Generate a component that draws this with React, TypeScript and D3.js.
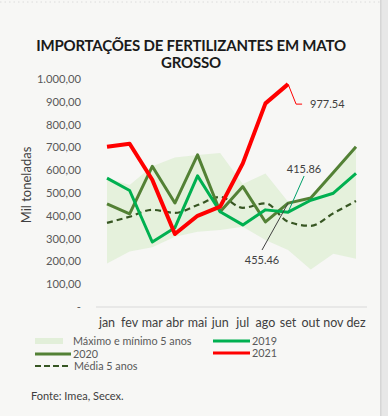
import * as d3 from 'd3';
import React from 'react';

const months = ['jan', 'fev', 'mar', 'abr', 'mai', 'jun', 'jul', 'ago', 'set', 'out', 'nov', 'dez'];

const y2019 = [565, 511, 285, 348, 575, 418, 360, 426, 415.86, 468, 499, 586];
const y2020 = [452, 408, 617, 456, 667, 418, 528, 373, 455.46, 478, 590, 703];
const y2021 = [703, 716, 558, 320, 400, 440, 630, 893, 977.54];
const media5 = [369, 396, 426, 413, 447, 483, 435, 455, 374, 356, 411, 465];
const max5 = [565, 535, 617, 656, 667, 675, 540, 586, 462, 478, 588, 703];
const min5 = [191, 243, 262, 308, 330, 338, 352, 294, 250, 164, 234, 212];

const yTicks = [0, 100, 200, 300, 400, 500, 600, 700, 800, 900, 1000];
const yTickLabels = ['-', '100,00', '200,00', '300,00', '400,00', '500,00', '600,00', '700,00', '800,00', '900,00', '1.000,00'];

const W = 388;
const H = 416;
const font = 'Lato, "Open Sans", sans-serif';

const x = d3.scalePoint<string>().domain(months).range([107, 356]);
const y = d3.scaleLinear().domain([0, 1000]).range([307, 79]);

const line = d3
  .line<number>()
  .x((_, i) => x(months[i])!)
  .y((d) => y(d));

const smooth = d3
  .line<number>()
  .x((_, i) => x(months[i])!)
  .y((d) => y(d))
  .curve(d3.curveMonotoneX);

const band = d3
  .area<number>()
  .x((_, i) => x(months[i])!)
  .y0((_, i) => y(min5[i]))
  .y1((d) => y(d));

export default function App() {
  const setX = x('set')!;
  return (
    <div style={{ position: 'absolute', left: 0, top: 0 }}>
      <svg width={W} height={H} style={{ display: 'block', fontFamily: font }}>
        <rect width={W} height={H} fill="#f7f7f5" />
        <line x1={0} x2={380} y1={2} y2={2} stroke="#dcdcdc" strokeDasharray="1.5 3" />
        <rect x={380} width={8} height={H} fill="#e7e7e7" />
        <rect x={380} width={1.5} height={H} fill="#d6d6d6" />

        <text x={191} y={51} textAnchor="middle" fontSize={15} fontWeight={700} fill="#1a1a1a" letterSpacing={-0.2}>
          IMPORTAÇÕES DE FERTILIZANTES EM MATO
        </text>
        <text x={191} y={68} textAnchor="middle" fontSize={15} fontWeight={700} fill="#1a1a1a" letterSpacing={-0.2}>
          GROSSO
        </text>

        <text
          transform="translate(31,185) rotate(-90)"
          textAnchor="middle"
          fontSize={13}
          fill="#404040"
        >
          Mil toneladas
        </text>

        {yTicks.map((t, i) => (
          <text key={t} x={81} y={y(t)} dy="0.35em" textAnchor="end" fontSize={11.2} fill="#595959">
            {yTickLabels[i]}
          </text>
        ))}

        <line x1={96} x2={367} y1={y(0)} y2={y(0)} stroke="#d9d9d9" strokeWidth={1} />
        {months.map((m) => (
          <text key={m} x={x(m)} y={327} textAnchor="middle" fontSize={12.5} fill="#404040">
            {m}
          </text>
        ))}

        <path d={band(max5)!} fill="#e2efd9" opacity={0.9} />
        <path d={smooth(media5)!} fill="none" stroke="#375623" strokeWidth={2.2} strokeDasharray="6 4" />
        <path d={line(y2020)!} fill="none" stroke="#538135" strokeWidth={3} strokeLinejoin="round" />
        <path d={line(y2019)!} fill="none" stroke="#00b050" strokeWidth={3} strokeLinejoin="round" />
        <path d={line(y2021)!} fill="none" stroke="#ff0000" strokeWidth={4} strokeLinejoin="round" />

        {/* rótulos */}
        <polyline
          points={`${setX},${y(977.54)} ${setX + 8},${y(977.54) + 20} ${setX + 14},${y(977.54) + 20}`}
          fill="none"
          stroke="#ff0000"
          strokeWidth={1}
        />
        <text x={setX + 22} y={y(977.54) + 20} dy="0.35em" fontSize={11} fill="#404040">
          977.54
        </text>
        <line x1={setX} y1={y(415.86)} x2={setX + 16} y2={176} stroke="#00a06a" strokeWidth={1} />
        <text x={304} y={169} dy="0.35em" textAnchor="middle" fontSize={11} fill="#404040">
          415.86
        </text>
        <line x1={setX} y1={y(455.46)} x2={262} y2={250} stroke="#404040" strokeWidth={1} />
        <text x={262} y={260} dy="0.35em" textAnchor="middle" fontSize={11} fill="#404040">
          455.46
        </text>

        {/* legenda */}
        <g fontSize={10.8} fill="#595959">
          <rect x={35} y={338} width={28} height={6} fill="#e2efd9" />
          <text x={73} y={341} dy="0.35em">Máximo e mínimo 5 anos</text>
          <line x1={35} x2={71} y1={354} y2={354} stroke="#538135" strokeWidth={3} />
          <text x={73} y={354} dy="0.35em">2020</text>
          <line x1={35} x2={71} y1={366} y2={366} stroke="#375623" strokeWidth={2.2} strokeDasharray="6 3" />
          <text x={74} y={366} dy="0.35em">Média 5 anos</text>
          <line x1={213} x2={250} y1={341} y2={341} stroke="#00b050" strokeWidth={3} />
          <text x={252} y={341} dy="0.35em">2019</text>
          <line x1={213} x2={250} y1={353} y2={353} stroke="#ff0000" strokeWidth={3} />
          <text x={252} y={353} dy="0.35em">2021</text>
        </g>

        <text x={31} y={396} dy="0.35em" fontSize={11} fill="#404040">
          Fonte: Imea, Secex.
        </text>
      </svg>
    </div>
  );
}
